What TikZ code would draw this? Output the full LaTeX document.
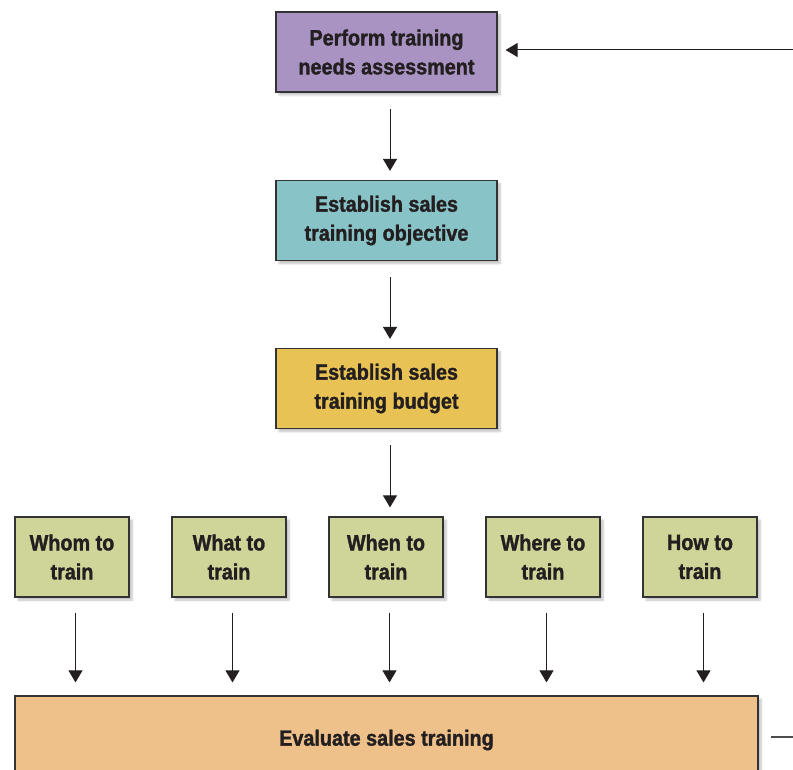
\documentclass[tikz,border=0pt]{standalone}
\usepackage{fontspec}
\setmainfont{Liberation Sans}[FakeStretch=0.9, BoldFeatures={FakeBold=1.4}]
\usetikzlibrary{arrows.meta,shadows.blur}
\definecolor{boxline}{HTML}{333333}
\definecolor{inkdark}{HTML}{231F20}
\definecolor{cpurple}{HTML}{A993C2}
\definecolor{cteal}{HTML}{88C3C7}
\definecolor{cgold}{HTML}{E8C254}
\definecolor{cgreen}{HTML}{CFD598}
\definecolor{corange}{HTML}{EEC08A}
\tikzset{
  stagebox/.style={draw=boxline, line width=1.2pt, text=inkdark,
    font=\fontsize{22}{29}\selectfont\bfseries, align=center,
    inner sep=0pt, anchor=center,
    blur shadow={shadow xshift=3pt, shadow yshift=-3pt, shadow blur steps=6, shadow opacity=25}},
  bigbox/.style={stagebox, minimum width=221pt, minimum height=80pt},
  smallbox/.style={stagebox, fill=cgreen, minimum width=114pt, minimum height=80pt},
  flow/.style={draw=inkdark, line width=1pt, -{Triangle[width=14pt,length=12pt]}},
  plainline/.style={draw=inkdark!80, line width=1.2pt}
}
\begin{document}
\begin{tikzpicture}[x=1pt,y=-1pt]
\useasboundingbox (0,0) rectangle (793,770);
\clip (0,0) rectangle (793,770);

% main chain
\node[bigbox, fill=cpurple] (assess) at (386.5,52) {Perform training\\needs assessment};
\node[bigbox, fill=cteal] (objective) at (386.5,220.5) {Establish sales\\training objective};
\node[bigbox, fill=cgold] (budget) at (386.5,388.5) {Establish sales\\training budget};

% decision boxes
\node[smallbox] (whom) at (72,557) {Whom to\\train};
\node[smallbox] (what) at (229,557) {What to\\train};
\node[smallbox] (when) at (386,557) {When to\\train};
\node[smallbox] (where) at (543,557) {Where to\\train};
\node[smallbox] (how) at (700,557) {How to\\train};

% evaluation box, running off the lower edge
\node[stagebox, fill=corange, minimum width=743pt, minimum height=88pt] (evaluate) at (386.5,740) {Evaluate sales training};

% feedback loop ends
\coordinate (loopin) at (796,50);
\coordinate (loopout) at (771,737);
\coordinate (loopedge) at (796,737);

% connectors
\path[flow, shorten <=16pt, shorten >=9pt] ([xshift=3.5pt]assess.south) -- ([xshift=3.5pt]objective.north);
\path[flow, shorten <=16pt, shorten >=9pt] ([xshift=3.5pt]objective.south) -- ([xshift=3.5pt]budget.north);
\path[flow, shorten <=16pt, shorten >=9pt] ([xshift=3.5pt]budget.south) -- ([xshift=4pt]when.north);
\foreach \b in {whom,what,when,where,how}
  \path[flow, shorten <=15pt, shorten >=13pt] ([xshift=3.5pt]\b.south) -- ([xshift=3.5pt]\b.south |- evaluate.north);
\path[flow, shorten >=8pt] (loopin) -- (loopin -| assess.east);
\path[plainline] (loopout) -- (loopedge);
\end{tikzpicture}
\end{document}
